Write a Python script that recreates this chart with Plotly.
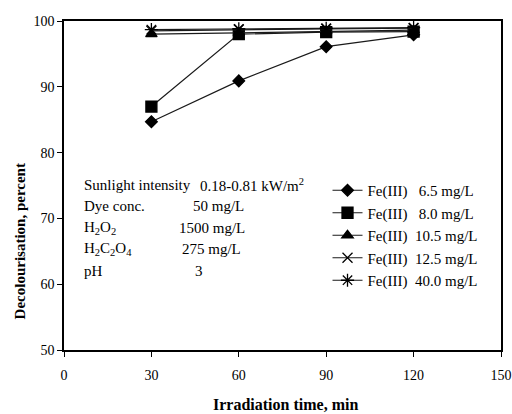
import plotly.graph_objects as go

# Irradiation time (min) and decolourisation (%) for each Fe(III) dose
time_min = [30, 60, 90, 120]
fe_6_5 = [84.7, 90.9, 96.1, 97.9]
fe_8_0 = [87.0, 98.0, 98.3, 98.4]
fe_10_5 = [98.0, 98.2, 98.5, 98.6]
fe_12_5 = [98.5, 98.7, 98.8, 98.9]
fe_40_0 = [98.7, 98.8, 98.9, 99.0]

series_names = [
    "Fe(III)\u00a0\u00a0 6.5 mg/L",
    "Fe(III)\u00a0\u00a0 8.0 mg/L",
    "Fe(III)\u00a0\u00a010.5 mg/L",
    "Fe(III)\u00a0\u00a012.5 mg/L",
    "Fe(III)\u00a0\u00a040.0 mg/L",
]
series_values = [fe_6_5, fe_8_0, fe_10_5, fe_12_5, fe_40_0]
symbols = ["diamond", "square", "triangle-up", "x-thin", "asterisk"]
sizes = [9, 11, 10, 10, 11]

# Experimental conditions shown in the box
cond_labels = ["Sunlight intensity", "Dye conc.", "H<sub>2</sub>O<sub>2</sub>",
               "H<sub>2</sub>C<sub>2</sub>O<sub>4</sub>", "pH"]
cond_values = ["0.18-0.81 kW/m<sup>2</sup>", "50 mg/L", "1500 mg/L", "275 mg/L", "3"]
cond_value_x = [46.0, 43.6, 38.8, 39.8, 44.3]

FONT = "Liberation Serif, Times New Roman, serif"

fig = go.Figure()
for name, vals, sym, sz in zip(series_names, series_values, symbols, sizes):
    fig.add_trace(go.Scatter(
        x=time_min, y=vals, name=name, mode="lines+markers",
        line=dict(color="#1a1a1a", width=1.2),
        marker=dict(symbol=sym, size=sz, color="black",
                    line=dict(color="black", width=1.3)),
    ))

row_y = [75.1, 71.85, 68.6, 65.3, 62.05]
for lab, val, vx, ry in zip(cond_labels, cond_values, cond_value_x, row_y):
    fig.add_annotation(x=6.2, y=ry, text=lab, showarrow=False, xanchor="left",
                       yanchor="middle", font=dict(family=FONT, size=15, color="black"))
    fig.add_annotation(x=vx, y=ry, text=val, showarrow=False, xanchor="left",
                       yanchor="middle", font=dict(family=FONT, size=15, color="black"))

# Axis titles
fig.add_annotation(x=0, y=0.33, xref="paper", yref="paper", xshift=-44,
                   text="<b>Decolourisation, percent</b>", textangle=-90,
                   showarrow=False, xanchor="center", yanchor="middle",
                   font=dict(family=FONT, size=15, color="black"))
fig.add_annotation(x=0.5, y=0, xref="paper", yref="paper", xshift=3, yshift=-54,
                   text="<b>Irradiation time, min</b>",
                   showarrow=False, xanchor="center", yanchor="middle",
                   font=dict(family=FONT, size=16, color="black"))

fig.update_layout(
    width=512, height=414,
    margin=dict(l=64, r=11, t=21, b=64),
    plot_bgcolor="white", paper_bgcolor="white",
    font=dict(family=FONT, size=14, color="black"),
    showlegend=True,
    legend=dict(x=0.603, y=0.535, xanchor="left", yanchor="top",
                bgcolor="rgba(0,0,0,0)", itemwidth=30,
                font=dict(family=FONT, size=15, color="black")),
    xaxis=dict(range=[0, 150], tickvals=[0, 30, 60, 90, 120, 150],
               ticks="outside", ticklen=5, tickcolor="black",
               ticklabelstandoff=6, automargin=False,
               tickfont=dict(family=FONT, size=14),
               showline=True, linecolor="black", linewidth=1.5, mirror=True,
               showgrid=False, zeroline=False),
    yaxis=dict(range=[50, 100], tickvals=[50, 60, 70, 80, 90, 100],
               ticks="outside", ticklen=5, tickcolor="black", automargin=False,
               tickfont=dict(family=FONT, size=14),
               showline=True, linecolor="black", linewidth=1.5, mirror=True,
               showgrid=False, zeroline=False),
)

fig.write_html("out.html")
